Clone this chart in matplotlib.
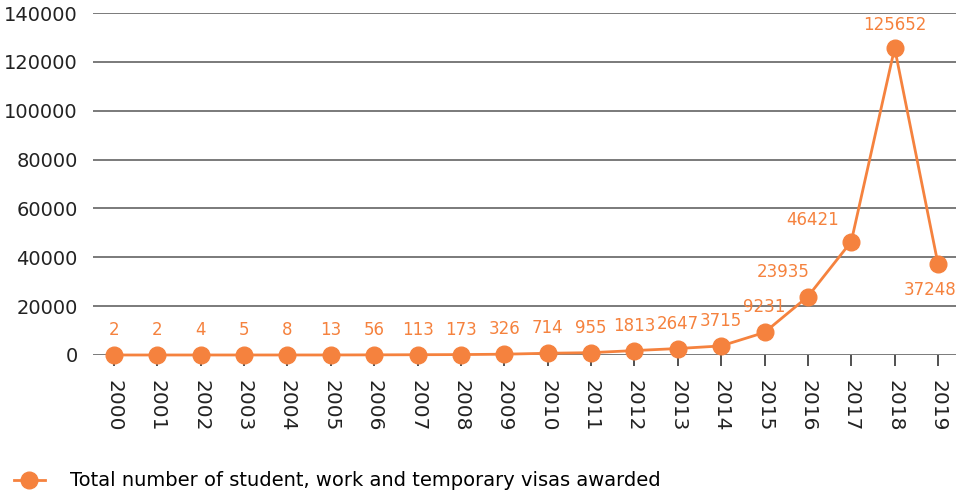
import matplotlib.pyplot as plt
import numpy as np

years = [str(y) for y in range(2000, 2020)]
visas = [2, 2, 4, 5, 8, 13, 56, 113, 173, 326, 714, 955, 1813, 2647, 3715,
         9231, 23935, 46421, 125652, 37248]
yticks = [0, 20000, 40000, 60000, 80000, 100000, 120000, 140000]
series_label = 'Total number of student, work and temporary visas awarded'

orange = '#F5823E'
grid_col = '#6f6f6f'

fig = plt.figure(figsize=(9.56, 4.98), dpi=100)
ax = fig.add_axes([93 / 956, 1 - 355 / 498, (956 - 93) / 956, (355 - 13) / 498])

x = np.arange(len(years))
line, = ax.plot(x, visas, '-o', color=orange, lw=2.0, markersize=12,
                clip_on=False, zorder=3, label=series_label)

# label offsets in pixels (default above the point)
offsets = {16: (-25, 25), 17: (-39, 22), 18: (0, 23), 19: (-8, -26)}
for i, v in enumerate(visas):
    dx, dy = offsets.get(i, (0, 25))
    ax.annotate(str(v), (x[i], v), xytext=(dx, dy), textcoords='offset pixels',
                ha='center', va='center', color=orange, fontsize=12,
                annotation_clip=False)

ax.set_xlim(-0.484, 19.415)
ax.set_ylim(0, 140000)
ax.set_yticks(yticks)
ax.set_yticklabels([str(t) for t in yticks], fontsize=14, color='#222222')
ax.set_xticks(x)
ax.set_xticklabels(years, rotation=-90, fontsize=14.5, color='#222222')
ax.tick_params(axis='y', length=0, pad=11)
ax.tick_params(axis='x', length=8, width=1.2, color='#333333', pad=10)
ax.grid(axis='y', color=grid_col, lw=1.3)
ax.set_axisbelow(True)
for s in ax.spines.values():
    s.set_visible(False)

fig.legend(handles=[line], loc='lower left', bbox_to_anchor=(0.0, -0.012),
           frameon=False, fontsize=14, handlelength=1.6, handletextpad=1.3,
           borderaxespad=0.3)

fig.savefig('out.png', dpi=100)
